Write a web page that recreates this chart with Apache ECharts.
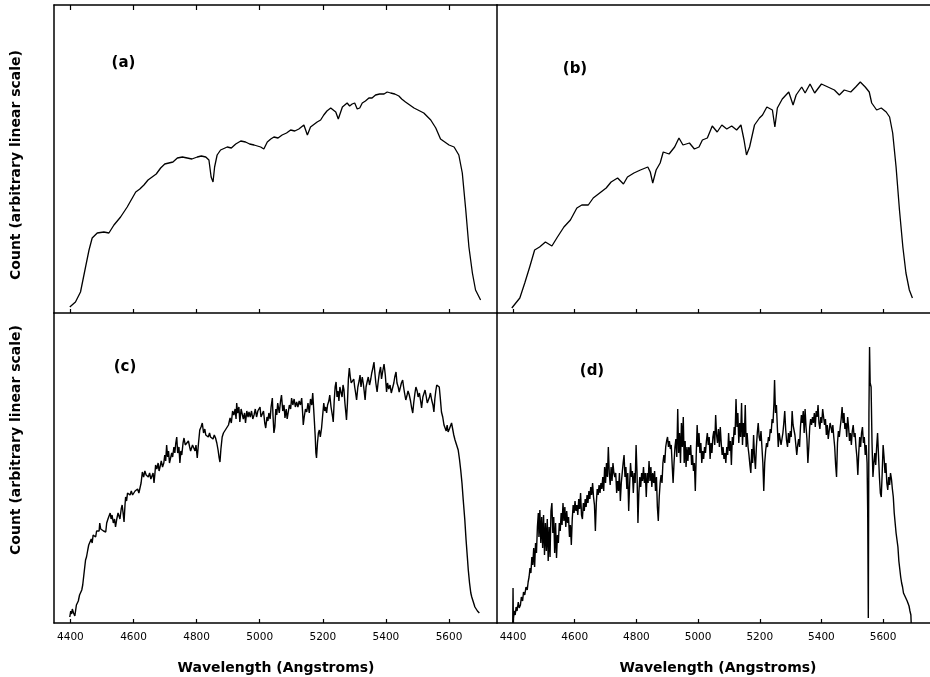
<!DOCTYPE html>
<html>
<head>
<meta charset="utf-8">
<script src="https://cdn.jsdelivr.net/npm/echarts@6/dist/echarts.min.js"></script>
<style>
html,body{margin:0;padding:0;background:#fff;}
#chart{width:930px;height:677px;}
</style>
</head>
<body>
<div id="chart"></div>
<script>
// ---------- data (wavelength in Angstroms, counts in arbitrary linear units) ----------
const tickValues = [4400, 4600, 4800, 5000, 5200, 5400, 5600];
const panelLabels = ['(a)', '(b)', '(c)', '(d)'];
const xTitle = 'Wavelength (Angstroms)';
const yTitle = 'Count (arbitrary linear scale)';

const wavelengthA = [4398,4416,4432,4448,4459,4469,4485,4506,4522,4538,4559,4580,4607,4620,4633,4646,4659,4672,4686,4699,4712,4725,4739,4755,4770,4785,4802,4815,4829,4839,4846,4852,4857,4865,4876,4897,4910,4924,4940,4955,4968,4982,5003,5013,5024,5035,5045,5058,5071,5085,5098,5111,5124,5140,5151,5161,5182,5193,5203,5213,5225,5233,5241,5249,5262,5277,5285,5293,5301,5309,5317,5325,5335,5346,5356,5367,5380,5394,5404,5415,5428,5441,5450,5462,5489,5520,5542,5558,5573,5600,5616,5631,5642,5653,5663,5674,5684,5700];
const countA = [6,11,21,46,63,75,80,81,80,88,96,106,121,124,128,133,136,139,145,149,150,151,155,156,155,154,156,157,156,153,136,131,146,158,163,166,165,169,172,171,169,168,166,164,171,174,176,175,178,180,183,182,184,188,178,186,191,193,198,202,205,203,201,194,206,210,207,209,210,204,205,210,212,215,215,218,219,219,221,220,219,217,214,211,205,200,193,185,174,168,166,158,140,103,66,40,23,13];

const wavelengthB = [4396,4422,4438,4454,4470,4486,4505,4526,4544,4565,4586,4607,4623,4644,4660,4681,4702,4718,4739,4758,4771,4792,4813,4837,4845,4853,4864,4877,4887,4906,4924,4938,4951,4972,4988,5003,5014,5030,5046,5062,5077,5093,5109,5125,5139,5149,5157,5167,5183,5199,5209,5223,5241,5249,5257,5273,5294,5308,5318,5336,5347,5363,5378,5400,5421,5442,5458,5474,5495,5511,5526,5542,5555,5563,5579,5594,5610,5621,5631,5642,5653,5664,5674,5685,5695];
const countB = [5,15,30,46,63,66,71,67,76,86,93,105,108,108,115,120,125,131,135,129,136,140,143,146,141,130,143,150,161,159,166,175,168,170,164,166,173,175,187,181,188,184,187,183,188,173,158,166,188,195,198,206,203,186,205,214,221,208,218,226,220,229,220,229,226,223,218,223,221,226,231,226,221,210,203,205,201,196,180,146,103,66,40,23,15];

const wavelengthC = [4398,4401,4404,4406,4410,4414,4416,4419,4421,4425,4429,4432,4436,4439,4441,4444,4448,4451,4455,4458,4462,4466,4469,4472,4474,4477,4480,4483,4485,4488,4491,4493,4496,4499,4501,4505,4509,4512,4515,4519,4522,4526,4529,4532,4536,4540,4543,4547,4551,4554,4557,4561,4564,4567,4570,4573,4575,4578,4581,4585,4589,4593,4597,4601,4605,4609,4613,4617,4620,4624,4628,4632,4636,4640,4643,4647,4651,4655,4659,4662,4665,4668,4670,4674,4678,4681,4684,4688,4692,4696,4699,4702,4705,4708,4711,4714,4718,4721,4724,4728,4731,4734,4737,4740,4744,4747,4750,4753,4757,4760,4764,4767,4770,4774,4778,4781,4783,4787,4791,4795,4798,4802,4806,4810,4814,4818,4822,4826,4829,4833,4837,4841,4844,4848,4852,4856,4860,4864,4868,4871,4874,4877,4881,4885,4889,4893,4897,4901,4906,4910,4914,4918,4922,4925,4927,4930,4934,4937,4941,4945,4948,4952,4955,4959,4963,4966,4970,4974,4978,4982,4986,4990,4994,4997,5001,5004,5008,5012,5016,5019,5023,5026,5029,5033,5036,5040,5042,5045,5048,5051,5054,5057,5059,5062,5066,5069,5073,5077,5080,5084,5087,5090,5094,5098,5101,5105,5109,5113,5117,5121,5125,5129,5133,5136,5138,5141,5145,5149,5153,5157,5161,5165,5168,5171,5173,5176,5178,5180,5183,5186,5189,5192,5196,5199,5203,5206,5209,5212,5215,5219,5222,5226,5229,5231,5233,5236,5239,5242,5245,5248,5251,5254,5258,5261,5264,5267,5270,5273,5275,5278,5281,5284,5287,5290,5294,5298,5301,5304,5307,5311,5315,5318,5321,5325,5328,5331,5334,5337,5341,5344,5348,5352,5355,5358,5362,5365,5368,5372,5375,5379,5383,5386,5390,5394,5398,5402,5405,5409,5413,5417,5421,5425,5428,5432,5435,5439,5442,5446,5449,5453,5456,5459,5463,5467,5470,5474,5478,5481,5485,5488,5492,5495,5499,5502,5506,5510,5513,5517,5521,5524,5528,5531,5534,5538,5541,5545,5549,5552,5555,5558,5561,5565,5569,5572,5576,5580,5584,5587,5591,5594,5597,5601,5605,5608,5611,5615,5619,5624,5629,5633,5637,5641,5645,5650,5654,5658,5661,5665,5669,5672,5676,5679,5682,5686,5690,5693,5696];
const countC = [6,12,9,14,10,7,9,18,20,22,28,30,33,38,40,52,63,66,73,78,76,84,80,88,86,90,86,92,90,94,92,100,94,96,93,92,94,91,100,104,106,110,104,108,100,104,96,104,110,108,104,114,118,110,101,118,126,122,130,131,128,132,128,129,132,130,134,130,131,140,151,146,152,148,150,146,150,144,146,150,140,150,158,154,160,152,156,162,156,160,168,162,178,166,172,160,161,170,166,176,170,180,186,170,176,160,172,168,180,185,178,180,176,182,176,172,170,178,175,172,178,165,180,193,196,200,190,194,188,190,186,190,186,188,184,188,185,180,173,166,161,174,186,190,188,194,193,198,205,200,212,208,214,204,220,210,216,201,214,213,204,210,200,212,206,211,206,212,204,208,214,206,212,211,216,206,205,212,200,195,206,202,210,204,216,225,208,190,196,214,208,220,216,210,222,228,212,218,205,214,204,210,218,214,225,218,224,216,221,216,222,218,225,210,198,206,214,211,220,210,224,218,230,214,203,186,170,165,180,190,193,186,195,206,220,212,216,210,218,222,228,216,214,206,201,222,236,241,226,232,222,236,230,226,238,233,220,210,203,220,244,255,246,240,238,244,236,230,223,236,242,248,236,246,240,232,223,236,242,246,238,244,250,254,261,250,240,231,240,250,256,244,252,259,248,231,240,234,238,230,231,240,246,251,240,236,231,236,240,243,236,230,223,228,232,228,222,216,210,220,230,236,232,226,230,222,215,226,230,233,226,220,218,226,230,223,218,211,224,232,238,236,236,226,211,206,198,196,192,198,191,194,196,200,198,188,183,178,173,164,153,140,123,103,83,66,53,40,30,26,22,19,16,14,12,11,10];

const wavelengthD = [4399,4400,4401,4404,4407,4410,4413,4417,4420,4424,4427,4431,4434,4438,4442,4446,4449,4452,4455,4458,4461,4464,4467,4470,4473,4476,4479,4482,4484,4487,4490,4493,4496,4499,4502,4505,4508,4511,4514,4517,4520,4523,4526,4529,4532,4535,4538,4541,4544,4547,4550,4553,4556,4559,4562,4565,4568,4571,4574,4577,4580,4583,4586,4589,4592,4595,4598,4601,4604,4607,4610,4613,4616,4619,4622,4625,4628,4631,4634,4637,4640,4643,4646,4649,4652,4655,4658,4661,4664,4667,4670,4673,4676,4679,4682,4685,4688,4691,4694,4697,4700,4703,4706,4709,4712,4715,4718,4721,4724,4727,4730,4733,4736,4739,4742,4745,4748,4751,4754,4757,4760,4763,4766,4769,4772,4775,4778,4781,4784,4787,4790,4793,4796,4799,4802,4805,4808,4811,4814,4817,4820,4823,4826,4829,4832,4835,4838,4841,4844,4847,4850,4853,4856,4859,4862,4865,4868,4871,4874,4877,4880,4883,4886,4889,4892,4895,4898,4901,4904,4907,4910,4913,4916,4919,4922,4925,4928,4931,4934,4937,4940,4943,4946,4949,4952,4955,4958,4961,4964,4967,4970,4973,4976,4979,4982,4985,4988,4991,4994,4997,5000,5003,5006,5009,5012,5015,5018,5021,5024,5027,5030,5033,5036,5039,5042,5045,5048,5051,5054,5057,5060,5063,5066,5069,5072,5075,5078,5081,5084,5087,5090,5093,5096,5099,5102,5105,5108,5111,5114,5117,5120,5123,5126,5129,5132,5135,5138,5141,5144,5147,5150,5153,5156,5159,5162,5165,5168,5171,5174,5177,5180,5183,5186,5189,5192,5195,5198,5201,5204,5207,5210,5213,5216,5219,5222,5225,5228,5231,5234,5237,5240,5243,5246,5248,5251,5254,5257,5260,5263,5266,5269,5272,5275,5278,5281,5284,5287,5290,5293,5296,5299,5302,5305,5308,5311,5314,5317,5320,5323,5326,5329,5332,5335,5338,5341,5344,5347,5350,5353,5356,5359,5362,5365,5368,5371,5374,5377,5380,5383,5386,5389,5392,5395,5398,5401,5404,5407,5410,5413,5416,5419,5422,5425,5428,5431,5434,5437,5440,5443,5446,5449,5452,5455,5458,5461,5464,5467,5470,5473,5476,5479,5482,5485,5488,5491,5494,5497,5500,5503,5506,5509,5512,5515,5518,5521,5524,5527,5530,5533,5536,5539,5542,5545,5548,5550,5552,5554,5556,5558,5561,5564,5567,5570,5573,5576,5579,5582,5585,5588,5591,5594,5597,5600,5603,5606,5609,5612,5615,5618,5621,5624,5627,5630,5633,5636,5639,5642,5645,5648,5651,5654,5657,5660,5663,5666,5669,5672,5675,5678,5681,5684,5687,5690,5691];
const countD = [0,35,3,12,8,16,12,21,15,18,26,22,31,28,36,33,41,46,55,50,66,58,75,56,80,70,96,110,86,113,80,106,75,108,68,100,72,104,62,96,66,112,120,90,106,70,100,65,88,80,100,92,110,98,120,102,116,96,112,100,106,86,98,78,104,118,110,122,112,118,108,124,114,130,108,104,120,112,124,116,128,120,132,124,136,128,140,126,118,92,120,134,128,138,130,140,134,146,132,156,140,160,146,176,150,138,156,142,160,150,146,150,130,142,132,150,122,140,150,160,168,146,156,134,150,112,138,160,146,152,130,150,140,178,150,100,130,146,136,150,142,156,140,150,126,150,140,162,142,156,136,150,140,152,132,146,116,102,126,140,148,140,160,168,160,176,182,186,176,182,174,178,158,140,160,176,184,166,214,170,190,160,200,176,206,160,182,156,176,162,176,168,178,158,168,152,160,132,168,198,176,190,170,180,160,172,164,176,170,182,190,178,186,164,180,170,186,192,178,208,188,180,194,176,196,180,168,176,164,170,160,176,168,190,172,182,158,186,178,196,188,224,196,210,180,200,186,220,178,200,186,218,176,190,176,168,158,150,174,160,188,166,154,176,190,200,186,182,192,176,160,132,160,172,180,176,186,182,194,190,204,200,220,243,210,218,196,176,190,184,178,184,190,200,212,194,182,176,190,180,192,186,212,198,200,188,178,168,178,184,176,196,208,200,212,190,214,196,184,160,176,196,204,198,206,200,210,196,212,206,218,200,194,206,200,214,206,198,204,188,198,184,192,200,196,190,198,186,176,158,146,180,192,186,196,204,216,200,210,194,200,186,206,196,182,190,178,192,198,186,190,176,166,148,170,186,176,190,196,180,186,168,178,160,111,5,210,276,240,236,180,146,160,170,158,176,190,168,146,130,126,150,178,166,150,160,140,133,146,138,150,144,134,126,110,100,90,83,76,62,54,46,40,36,30,32,26,24,22,20,17,12,8,0];

// ---------- layout ----------
const X_MIN = 4348, X_MAX = 5752;
const grids = [
  {left: 54, top: 5, width: 443, height: 308},
  {left: 497, top: 5, width: 443, height: 308},
  {left: 54, top: 313, width: 443, height: 310},
  {left: 497, top: 313, width: 443, height: 310}
];
const yMax = [308, 308, 310, 310];
const FRAME = {color: '#000', width: 1.5};

function zip(xs, ys) { return xs.map((x, i) => [x, ys[i]]); }
const seriesData = [zip(wavelengthA, countA), zip(wavelengthB, countB), zip(wavelengthC, countC), zip(wavelengthD, countD)];

const xAxes = [];
const yAxes = [];
grids.forEach((g, i) => {
  const showLabels = i >= 2;
  xAxes.push({
    type: 'value', gridIndex: i, min: X_MIN, max: X_MAX, position: 'bottom',
    axisLine: {show: true, onZero: false, lineStyle: FRAME},
    axisTick: {show: true, inside: true, length: 4, customValues: tickValues, lineStyle: {color: '#000', width: 1.2}},
    axisLabel: {show: showLabels, customValues: tickValues, margin: 9, color: '#000',
      fontFamily: 'DejaVu Sans', fontSize: 10.5, formatter: v => String(v)},
    splitLine: {show: false}
  });
  yAxes.push({
    type: 'value', gridIndex: i, min: 0, max: yMax[i], position: 'left',
    axisLine: {show: true, onZero: false, lineStyle: FRAME},
    axisTick: {show: false}, axisLabel: {show: false}, splitLine: {show: false}
  });
});
// top frame lines of the upper panels (only panel (a) carries ticks)
[0, 1].forEach(i => {
  xAxes.push({
    type: 'value', gridIndex: i, min: X_MIN, max: X_MAX, position: 'top',
    axisLine: {show: true, onZero: false, lineStyle: FRAME},
    axisTick: {show: i === 0, inside: true, length: 5, customValues: tickValues, lineStyle: {color: '#000', width: 1.2}},
    axisLabel: {show: false}, splitLine: {show: false}
  });
});

const series = seriesData.map((d, i) => ({
  type: 'line', xAxisIndex: i, yAxisIndex: i, data: d,
  showSymbol: false, symbol: 'none', silent: true,
  lineStyle: {color: '#000', width: i >= 2 ? 1.4 : 1.3}
}));

const labelPos = [[123.5, 63], [575, 69.5], [125, 367], [592, 371.5]];
const graphic = [];
panelLabels.forEach((t, i) => {
  graphic.push({type: 'text', x: labelPos[i][0], y: labelPos[i][1],
    style: {text: t, fill: '#000', font: 'bold 15px "DejaVu Sans"', textAlign: 'center', textVerticalAlign: 'middle'}});
});
[[16, 165], [16, 440]].forEach(p => {
  graphic.push({type: 'text', x: p[0], y: p[1], rotation: Math.PI / 2,
    style: {text: yTitle, fill: '#000', font: 'bold 14px "DejaVu Sans"', textAlign: 'center', textVerticalAlign: 'middle'}});
});
[[276, 668], [718, 668]].forEach(p => {
  graphic.push({type: 'text', x: p[0], y: p[1],
    style: {text: xTitle, fill: '#000', font: 'bold 14px "DejaVu Sans"', textAlign: 'center', textVerticalAlign: 'middle'}});
});

const chart = echarts.init(document.getElementById('chart'), null, {renderer: 'canvas'});
chart.setOption({
  animation: false,
  backgroundColor: '#fff',
  grid: grids.map(g => Object.assign({containLabel: false}, g)),
  xAxis: xAxes,
  yAxis: yAxes,
  series: series,
  graphic: graphic
});
</script>
</body>
</html>
